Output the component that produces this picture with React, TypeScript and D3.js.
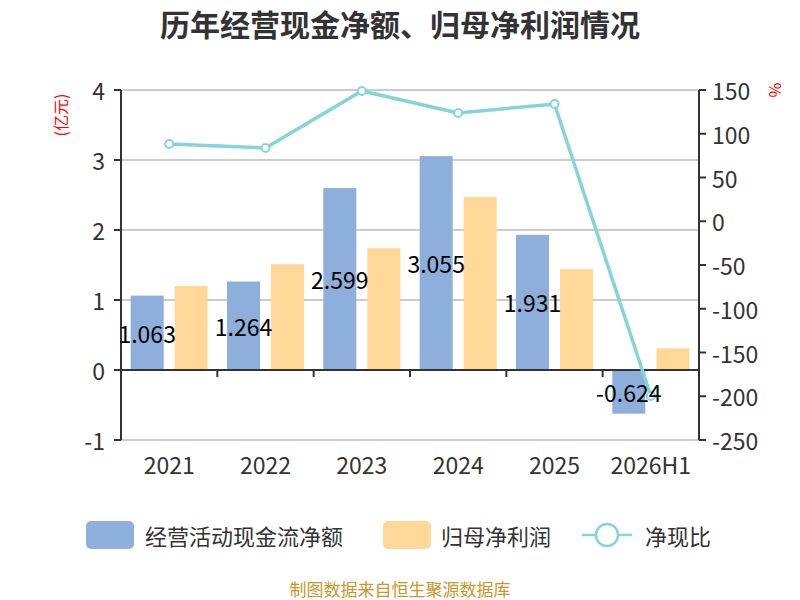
import { useEffect, useRef } from 'react'
import * as d3 from 'd3'

const categories = ['2021', '2022', '2023', '2024', '2025', '2026H1']
const cashFlow = [1.063, 1.264, 2.599, 3.055, 1.931, -0.624]
const netProfit = [1.2, 1.51, 1.74, 2.47, 1.44, 0.31]
const cashRatio = [88.3, 83.7, 148.9, 123.7, 134, -199.7]
const leftTicks = [-1, 0, 1, 2, 3, 4]
const rightTicks = [-250, -200, -150, -100, -50, 0, 50, 100, 150]

const seriesNames = ['经营活动现金流净额', '归母净利润', '净现比']
const colors = { cash: '#8eaedb', profit: '#ffd898', ratio: '#84d4d8' }
const font = '"Noto Sans CJK SC", "Noto Sans", sans-serif'

export default function App() {
  const svgRef = useRef<SVGSVGElement>(null)

  useEffect(() => {
    if (!svgRef.current) return
    const svg = d3.select(svgRef.current)
    svg.selectAll('*').remove()

    const left = 121
    const right = 699
    const top = 90
    const bottom = 440

    const x = d3.scaleBand().domain(categories).range([left, right])
    const xSub = d3.scaleBand().domain(['cash', 'profit'])
      .range([0, x.bandwidth()]).paddingInner(0.25).paddingOuter(0.22)
    const y = d3.scaleLinear().domain([-1, 4]).range([bottom, top])
    const yR = d3.scaleLinear().domain([-250, 150]).range([bottom, top])

    // title
    svg.append('text')
      .attr('x', 400).attr('y', 23)
      .attr('text-anchor', 'middle').attr('dominant-baseline', 'central')
      .attr('font-size', 30).attr('font-weight', 'bold').attr('fill', '#333')
      .text('历年经营现金净额、归母净利润情况')

    // grid
    svg.append('g').selectAll('line')
      .data(leftTicks.filter((d) => d !== 0))
      .enter().append('line')
      .attr('x1', left).attr('x2', right)
      .attr('y1', (d) => y(d)).attr('y2', (d) => y(d))
      .attr('stroke', '#ccc').attr('stroke-width', 2)

    // bars
    const data = categories.map((c, i) => ({ c, cash: cashFlow[i], profit: netProfit[i], ratio: cashRatio[i] }))
    svg.append('g').selectAll('rect.cash')
      .data(data).enter().append('rect')
      .attr('x', (d) => x(d.c)! + xSub('cash')!)
      .attr('y', (d) => y(Math.max(0, d.cash)))
      .attr('width', xSub.bandwidth())
      .attr('height', (d) => Math.abs(y(d.cash) - y(0)))
      .attr('fill', colors.cash)
    svg.append('g').selectAll('rect.profit')
      .data(data).enter().append('rect')
      .attr('x', (d) => x(d.c)! + xSub('profit')!)
      .attr('y', (d) => y(Math.max(0, d.profit)))
      .attr('width', xSub.bandwidth())
      .attr('height', (d) => Math.abs(y(d.profit) - y(0)))
      .attr('fill', colors.profit)

    // x axis (zero line)
    const axisColor = '#333'
    svg.append('line')
      .attr('x1', left).attr('x2', right).attr('y1', y(0)).attr('y2', y(0))
      .attr('stroke', axisColor).attr('stroke-width', 2)
    svg.append('g').selectAll('line')
      .data(categories.slice(1)).enter().append('line')
      .attr('x1', (d) => x(d)!).attr('x2', (d) => x(d)!)
      .attr('y1', y(0)).attr('y2', y(0) + 7)
      .attr('stroke', axisColor).attr('stroke-width', 2)
    svg.append('g').selectAll('text')
      .data(categories).enter().append('text')
      .attr('x', (d) => x(d)! + x.bandwidth() / 2)
      .attr('y', 464)
      .attr('text-anchor', 'middle').attr('dominant-baseline', 'central')
      .attr('font-size', 23).attr('fill', axisColor)
      .text((d) => d)

    // left axis
    svg.append('line')
      .attr('x1', left).attr('x2', left).attr('y1', top).attr('y2', bottom)
      .attr('stroke', axisColor).attr('stroke-width', 2)
    const lt = svg.append('g').selectAll('g').data(leftTicks).enter().append('g')
    lt.append('line')
      .attr('x1', left - 7).attr('x2', left).attr('y1', (d) => y(d)).attr('y2', (d) => y(d))
      .attr('stroke', axisColor).attr('stroke-width', 2)
    lt.append('text')
      .attr('x', left - 16).attr('y', (d) => y(d))
      .attr('text-anchor', 'end').attr('dominant-baseline', 'central')
      .attr('font-size', 23).attr('fill', axisColor)
      .text((d) => d)

    // right axis
    svg.append('line')
      .attr('x1', right).attr('x2', right).attr('y1', top).attr('y2', bottom)
      .attr('stroke', axisColor).attr('stroke-width', 2)
    const rt = svg.append('g').selectAll('g').data(rightTicks).enter().append('g')
    rt.append('line')
      .attr('x1', right).attr('x2', right + 7).attr('y1', (d) => yR(d)).attr('y2', (d) => yR(d))
      .attr('stroke', axisColor).attr('stroke-width', 2)
    rt.append('text')
      .attr('x', right + 13).attr('y', (d) => yR(d))
      .attr('text-anchor', 'start').attr('dominant-baseline', 'central')
      .attr('font-size', 23).attr('fill', axisColor)
      .text((d) => d)

    // units
    svg.append('text')
      .attr('transform', 'translate(60,115) rotate(-90)')
      .attr('text-anchor', 'middle').attr('dominant-baseline', 'central')
      .attr('font-size', 16).attr('fill', 'red')
      .text('(亿元)')
    svg.append('text')
      .attr('transform', 'translate(776,90) rotate(90)')
      .attr('text-anchor', 'middle').attr('dominant-baseline', 'central')
      .attr('font-size', 16).attr('fill', 'red')
      .text('%')

    // ratio line
    const cx = (d: { c: string }) => x(d.c)! + x.bandwidth() / 2
    const line = d3.line<typeof data[number]>()
      .x(cx).y((d) => yR(d.ratio))
    svg.append('path')
      .datum(data)
      .attr('fill', 'none').attr('stroke', colors.ratio).attr('stroke-width', 3.5)
      .attr('d', line)
    svg.append('g').selectAll('circle')
      .data(data).enter().append('circle')
      .attr('cx', cx).attr('cy', (d) => yR(d.ratio))
      .attr('r', 4).attr('fill', '#fff')
      .attr('stroke', colors.ratio).attr('stroke-width', 2)

    // cash labels
    svg.append('g').selectAll('text')
      .data(data).enter().append('text')
      .attr('x', (d) => x(d.c)! + xSub('cash')! + xSub.bandwidth() / 2)
      .attr('y', (d) => (y(d.cash) + y(0)) / 2)
      .attr('text-anchor', 'middle').attr('dominant-baseline', 'central')
      .attr('font-size', 23).attr('fill', '#000')
      .text((d) => d.cash.toFixed(3))

    // legend
    const lg = svg.append('g').attr('transform', 'translate(0,535)')
    lg.append('rect')
      .attr('x', 86).attr('y', -14).attr('width', 48).attr('height', 28).attr('rx', 5)
      .attr('fill', colors.cash)
    lg.append('text')
      .attr('x', 145).attr('y', 0).attr('dominant-baseline', 'central')
      .attr('font-size', 22).attr('fill', '#333').text(seriesNames[0])
    lg.append('rect')
      .attr('x', 383).attr('y', -14).attr('width', 48).attr('height', 28).attr('rx', 5)
      .attr('fill', colors.profit)
    lg.append('text')
      .attr('x', 441).attr('y', 0).attr('dominant-baseline', 'central')
      .attr('font-size', 22).attr('fill', '#333').text(seriesNames[1])
    lg.append('line')
      .attr('x1', 582).attr('x2', 632).attr('y1', 0).attr('y2', 0)
      .attr('stroke', colors.ratio).attr('stroke-width', 2.5)
    lg.append('circle')
      .attr('cx', 607).attr('cy', 0).attr('r', 11)
      .attr('fill', '#fff').attr('stroke', colors.ratio).attr('stroke-width', 2.5)
    lg.append('text')
      .attr('x', 645).attr('y', 0).attr('dominant-baseline', 'central')
      .attr('font-size', 22).attr('fill', '#333').text(seriesNames[2])

    // source
    svg.append('text')
      .attr('x', 400).attr('y', 588)
      .attr('text-anchor', 'middle').attr('dominant-baseline', 'central')
      .attr('font-size', 17).attr('fill', '#c8962a')
      .text('制图数据来自恒生聚源数据库')
  }, [])

  return (
    <svg
      ref={svgRef}
      width={800}
      height={600}
      style={{ position: 'absolute', left: 0, top: 0, fontFamily: font, background: '#fff' }}
    ></svg>
  )
}
